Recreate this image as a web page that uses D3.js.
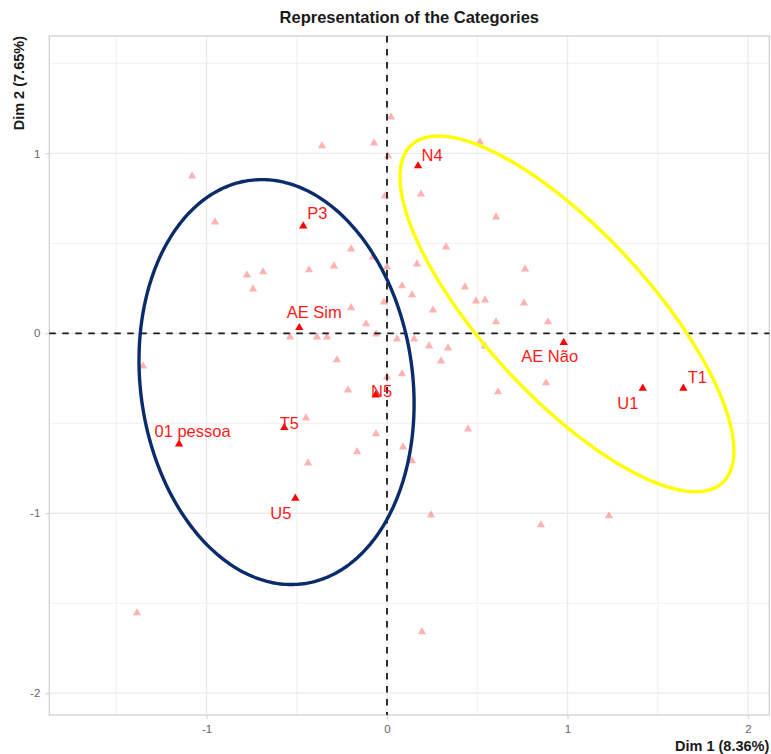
<!DOCTYPE html>
<html>
<head>
<meta charset="utf-8">
<script src="https://cdn.jsdelivr.net/npm/d3@7"></script>
<style>
  html, body { margin: 0; padding: 0; background: #ffffff; }
  svg { display: block; font-family: "Liberation Sans", Arial, sans-serif; }
</style>
</head>
<body>
<svg id="chart" width="771" height="754"></svg>
<script>
// ---- Data ---------------------------------------------------------------
// Category coordinates on the first two dimensions (highlighted categories)
const catNames = ["N4", "P3", "AE Sim", "N5", "T5", "01 pessoa", "U5", "AE Não", "U1", "T1"];
const catDim1  = [0.172, -0.464, -0.486, -0.063, -0.569, -1.152, -0.508, 0.979, 1.417, 1.642];
const catDim2  = [0.930,  0.596,  0.031, -0.343, -0.524, -0.615, -0.917, -0.052, -0.306, -0.306];

// Remaining categories (drawn faded)
const otherDim1 = [0.022, -0.360, -0.072, 0.006, 0.515, -1.080, 0.188, -0.011, -0.953, 0.604,
                   -0.199, 0.327, -0.078, 0.000, 0.166, 0.765, -0.294, -0.432, -0.687, -0.776,
                   -0.742, 0.083, 0.139, 0.432, -0.017, 0.493, 0.543, 0.759, 0.255, -0.199,
                   -0.116, 0.604, 0.892, -0.537, -0.388, -0.332, -0.061, 0.055, 0.150, 0.233,
                   0.338, 0.543, -0.277, 0.299, -1.352, 0.000, 0.083, -0.216, 0.881, 0.615,
                   -0.449, 0.449, -0.061, 0.089, -0.166, 0.139, -0.438, 0.244, 0.853, 1.230,
                   -1.385, 0.194];
const otherDim2 = [1.202, 1.041, 1.057, 0.985, 1.063, 0.874, 0.774, 0.763, 0.618, 0.646,
                   0.468, 0.479, 0.424, 0.368, 0.385, 0.357, 0.374, 0.352, 0.341, 0.324,
                   0.246, 0.263, 0.213, 0.257, 0.174, 0.179, 0.185, 0.168, 0.129, 0.141,
                   0.052, 0.063, 0.063, -0.021, -0.021, -0.021, -0.004, -0.032, -0.032, -0.071,
                   -0.082, -0.071, -0.148, -0.154, -0.182, -0.243, -0.226, -0.315, -0.276, -0.326,
                   -0.471, -0.532, -0.559, -0.632, -0.659, -0.709, -0.721, -1.010, -1.065, -1.015,
                   -1.554, -1.659];

// Group ellipses: centre, spread on each dimension and covariance
const ellipseCx  = [-0.612, 0.997];
const ellipseCy  = [-0.271, 0.108];
const ellipseSdX = [0.762, 0.925];
const ellipseSdY = [1.125, 0.988];
const ellipseCov = [-0.0917, -0.704];

// Axis ticks and titles
const xTicks = [-1, 0, 1, 2];
const yTicks = [1, 0, -1, -2];
const xMinor = [-1.5, -0.5, 0.5, 1.5];
const yMinor = [1.5, 0.5, -0.5, -1.5];
const xDomain = [-1.871, 2.118];
const yDomain = [-2.121, 1.652];
const titleText = "Representation of the Categories";
const xTitle = "Dim 1 (8.36%)";
const yTitle = "Dim 2 (7.65%)";

// ---- Layout & style -----------------------------------------------------
const panel = { left: 49.3, right: 769.3, top: 36, bottom: 715 };
const ellipseColors = ["#0B2C6A", "#FFFF00"];
const labelNudge = {          // label centre offsets from the point, in px
  "N4": [14, -11], "P3": [14, -13], "AE Sim": [15, -15], "N5": [6, -4],
  "T5": [5, -4], "01 pessoa": [13.5, -13], "U5": [-14.5, 15], "AE Não": [-14, 14],
  "U1": [-15, 15], "T1": [14, -11]
};

const svg = d3.select("#chart");
const x = d3.scaleLinear().domain(xDomain).range([panel.left, panel.right]);
const y = d3.scaleLinear().domain(yDomain).range([panel.bottom, panel.top]);

// Grid
const grid = svg.append("g");
grid.selectAll(".gxm").data(xMinor).join("line")
  .attr("x1", d => x(d)).attr("x2", d => x(d))
  .attr("y1", panel.top).attr("y2", panel.bottom)
  .attr("stroke", "#f0f0f0").attr("stroke-width", 1);
grid.selectAll(".gym").data(yMinor).join("line")
  .attr("y1", d => y(d)).attr("y2", d => y(d))
  .attr("x1", panel.left).attr("x2", panel.right)
  .attr("stroke", "#f0f0f0").attr("stroke-width", 1);
grid.selectAll(".gx").data(xTicks).join("line")
  .attr("x1", d => x(d)).attr("x2", d => x(d))
  .attr("y1", panel.top).attr("y2", panel.bottom)
  .attr("stroke", "#ebebeb").attr("stroke-width", 1.3);
grid.selectAll(".gy").data(yTicks).join("line")
  .attr("y1", d => y(d)).attr("y2", d => y(d))
  .attr("x1", panel.left).attr("x2", panel.right)
  .attr("stroke", "#ebebeb").attr("stroke-width", 1.3);

// Panel border
svg.append("rect")
  .attr("x", panel.left).attr("y", panel.top)
  .attr("width", panel.right - panel.left).attr("height", panel.bottom - panel.top)
  .attr("fill", "none").attr("stroke", "#d4d4d4").attr("stroke-width", 1.4);

// Axes (ticks + labels)
const xAxis = d3.axisBottom(x).tickValues(xTicks).tickSize(4).tickPadding(6)
  .tickFormat(d3.format("d"));
const yAxis = d3.axisLeft(y).tickValues(yTicks).tickSize(4).tickPadding(5)
  .tickFormat(d3.format("d"));
const gx = svg.append("g").attr("transform", `translate(0,${panel.bottom})`).call(xAxis);
const gy = svg.append("g").attr("transform", `translate(${panel.left},0)`).call(yAxis);
[gx, gy].forEach(g => {
  g.select(".domain").remove();
  g.selectAll(".tick line").attr("stroke", "#d4d4d4").attr("stroke-width", 1.2);
  g.selectAll(".tick text").attr("fill", "#666666")
    .style("font-size", "11.5px").style("font-family", "'Liberation Sans', Arial, sans-serif");
});
gx.selectAll(".tick text").text(d => d < 0 ? "-" + Math.abs(d) : d);
gy.selectAll(".tick text").text(d => d < 0 ? "-" + Math.abs(d) : d);

// Faded categories
const tri = d3.symbol().type(d3.symbolTriangle).size(30);
svg.append("g").selectAll("path").data(d3.range(otherDim1.length)).join("path")
  .attr("d", tri)
  .attr("transform", i => `translate(${x(otherDim1[i])},${y(otherDim2[i])})`)
  .attr("fill", "#ff0000").attr("fill-opacity", 0.3);

// Highlighted categories
svg.append("g").selectAll("path").data(d3.range(catNames.length)).join("path")
  .attr("d", tri)
  .attr("transform", i => `translate(${x(catDim1[i])},${y(catDim2[i])})`)
  .attr("fill", "#ff0000");

// Reference lines at the origin
svg.append("line")
  .attr("x1", x(0)).attr("x2", x(0)).attr("y1", panel.top).attr("y2", panel.bottom)
  .attr("stroke", "#1a1a1a").attr("stroke-width", 1.8).attr("stroke-dasharray", "6.5,6.5");
svg.append("line")
  .attr("y1", y(0)).attr("y2", y(0)).attr("x1", panel.left).attr("x2", panel.right)
  .attr("stroke", "#1a1a1a").attr("stroke-width", 1.8).attr("stroke-dasharray", "6.5,6.5");

// Group ellipses
const line = d3.line().x(p => x(p[0])).y(p => y(p[1])).curve(d3.curveLinearClosed);
ellipseCx.forEach((cx, k) => {
  const sx = ellipseSdX[k], sy = ellipseSdY[k];
  const b = ellipseCov[k] / sx;
  const c = Math.sqrt(sy * sy - b * b);
  const pts = d3.range(0, 360, 1).map(deg => {
    const t = deg * Math.PI / 180;
    return [cx + sx * Math.cos(t), ellipseCy[k] + b * Math.cos(t) + c * Math.sin(t)];
  });
  svg.append("path").attr("d", line(pts))
    .attr("fill", "none").attr("stroke", ellipseColors[k]).attr("stroke-width", 3.4);
});

// Category labels
svg.append("g").selectAll("text").data(d3.range(catNames.length)).join("text")
  .attr("x", i => x(catDim1[i]) + labelNudge[catNames[i]][0])
  .attr("y", i => y(catDim2[i]) + labelNudge[catNames[i]][1])
  .attr("dy", "0.35em")
  .attr("text-anchor", "middle")
  .attr("fill", "#ff1a1a")
  .style("font-size", "16.5px")
  .text(i => catNames[i]);

// Titles
svg.append("text")
  .attr("x", (panel.left + panel.right) / 2).attr("y", 23.3)
  .attr("text-anchor", "middle").attr("fill", "#1a1a1a")
  .style("font-size", "16.5px").style("font-weight", "bold")
  .text(titleText);
svg.append("text")
  .attr("x", panel.right).attr("y", 751)
  .attr("text-anchor", "end").attr("fill", "#1a1a1a")
  .style("font-size", "14.5px").style("font-weight", "bold")
  .text(xTitle);
svg.append("text")
  .attr("transform", `translate(23.5,${panel.top}) rotate(-90)`)
  .attr("text-anchor", "end").attr("fill", "#1a1a1a")
  .style("font-size", "14.5px").style("font-weight", "bold")
  .text(yTitle);
</script>
</body>
</html>
